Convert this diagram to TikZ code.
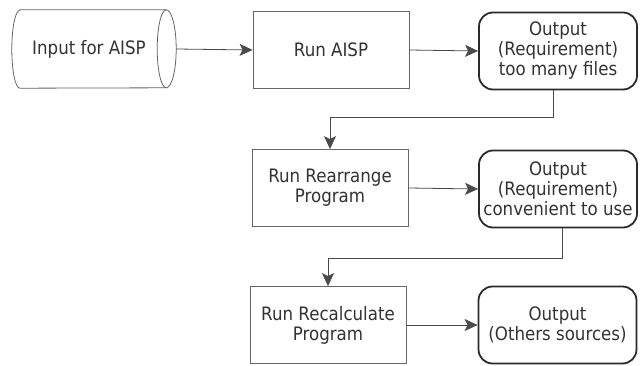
\documentclass[tikz,border=0pt]{standalone}
\usepackage{fontspec}
\setmainfont[FakeStretch=0.9]{DejaVu Sans}
\usetikzlibrary{arrows.meta,calc}
\definecolor{txt}{HTML}{333333}
\definecolor{thin}{HTML}{666666}
\definecolor{thick}{HTML}{2A2A2A}
\definecolor{conn}{HTML}{4A4A4A}
\begin{document}
\begin{tikzpicture}[x=1pt,y=1pt,
  every node/.style={font=\fontsize{18.5}{20}\selectfont, text=txt, align=center, inner sep=0pt},
  procbox/.style={draw=thin, line width=0.8pt, minimum width=156pt, minimum height=77pt},
  outbox/.style={draw=thick, line width=1.8pt, rounded corners=14pt, minimum width=158pt, minimum height=77pt},
  cyl/.style={draw=thin, line width=0.8pt},
  arr/.style={draw=conn, line width=0.8pt, -{Stealth[length=13pt,width=12pt,inset=3pt]}}
]
\useasboundingbox[fill=white] (0,0) rectangle (640,365);

% input cylinder
\node[minimum width=154pt, minimum height=78pt] (in) at (89,316) {Input for AISP};
\draw[cyl] ([xshift=8pt]in.north west) -- (in.north east)
   arc[start angle=90, end angle=-90, x radius=10pt, y radius=39pt]
   -- ([xshift=8pt]in.south west)
   arc[start angle=270, end angle=90, x radius=8pt, y radius=39pt] -- cycle;
\draw[cyl] (in.north east) arc[start angle=90, end angle=270, x radius=9pt, y radius=39pt];
\coordinate (inend) at ([xshift=10pt]in.east);

% process boxes
\node[procbox] (b1) at (331,315) {Run AISP};
\node[procbox] (b2) at (330,177) {Run Rearrange\\Program};
\node[procbox] (b3) at (328,40) {Run Recalculate\\Program};

% output boxes
\node[outbox] (o1) at (558,314) {Output\\(Requirement)\\too many files};
\node[outbox] (o2) at (558,176) {Output\\(Requirement)\\convenient to use};
\node[outbox] (o3) at (557.5,40) {Output\\(Others sources)};

% connectors
\draw[arr] (inend) -- (b1.west);
\draw[arr] (b1.east) -- (o1.west);
\draw[arr] ([xshift=-5pt]o1.south) -- ++(0,-27) -| (b2.north);
\draw[arr] (b2.east) -- (o2.west);
\draw[arr] ([xshift=4pt]o2.south) -- ++(0,-30) -| (b3.north);
\draw[arr] (b3.east) -- (o3.west);
\end{tikzpicture}
\end{document}
